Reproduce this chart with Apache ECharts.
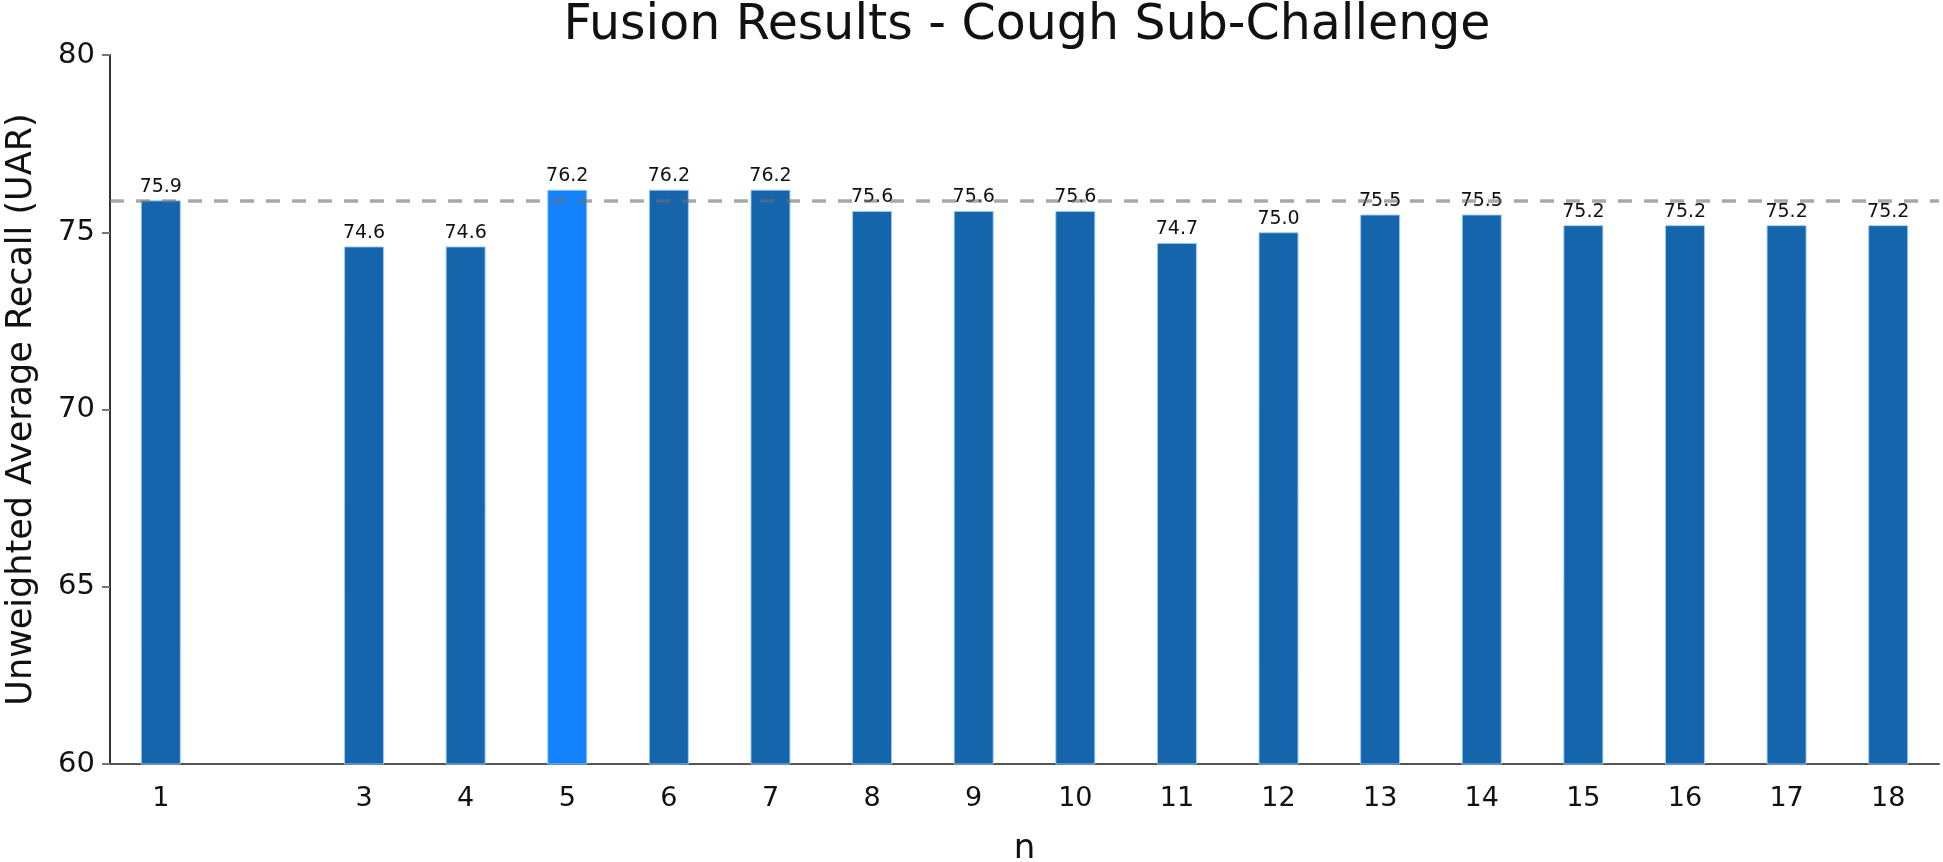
<!DOCTYPE html>
<html>
<head>
<meta charset="utf-8">
<script src="https://cdn.jsdelivr.net/npm/echarts@6/dist/echarts.min.js"></script>
<style>
  html, body { margin: 0; padding: 0; background: #fff; }
  #chart { width: 1943px; height: 862px; }
</style>
</head>
<body>
<div id="chart"></div>
<script>
// x categories (n); n = 2 has no result
var categories = ["1", "", "3", "4", "5", "6", "7", "8", "9", "10", "11", "12", "13", "14", "15", "16", "17", "18"];
var uarValues = [75.9, null, 74.6, 74.6, 76.2, 76.2, 76.2, 75.6, 75.6, 75.6, 74.7, 75.0, 75.5, 75.5, 75.2, 75.2, 75.2, 75.2];
var highlightIndex = 4; // n = 5
var baselineValue = 75.9;
var yTicks = { min: 60, max: 80, interval: 5 };

var chart = echarts.init(document.getElementById("chart"));

var barData = uarValues.map(function (v, i) {
  return {
    value: v,
    itemStyle: { color: i === highlightIndex ? "#1482fa" : "#1565ad" }
  };
});

var option = {
  textStyle: { fontFamily: "DejaVu Sans" },
  title: {
    text: "Fusion Results - Cough Sub-Challenge",
    left: 1022,
    textAlign: "center",
    top: -3,
    textStyle: { fontSize: 49, fontWeight: "normal", color: "#111" }
  },
  grid: { left: 110, right: 4, top: 55, bottom: 98, outerBoundsMode: "none", containLabel: false },
  xAxis: {
    type: "category",
    data: categories,
    name: "n",
    nameLocation: "middle",
    nameGap: 68,
    nameTextStyle: { fontSize: 34, color: "#111" },
    axisLine: { lineStyle: { color: "#555", width: 2 } },
    axisTick: { alignWithLabel: true, length: 8, lineStyle: { color: "#666" } },
    axisLabel: { fontSize: 27, color: "#111", margin: 21 }
  },
  yAxis: {
    type: "value",
    min: yTicks.min,
    max: yTicks.max,
    interval: yTicks.interval,
    name: "Unweighted Average Recall (UAR)",
    nameLocation: "middle",
    nameGap: 71,
    nameTextStyle: { fontSize: 35, color: "#111" },
    axisLine: { show: true, lineStyle: { color: "#333", width: 2 } },
    axisTick: { show: true, length: 8, lineStyle: { color: "#777", width: 2 } },
    axisLabel: { fontSize: 29, color: "#111", margin: 15 },
    splitLine: { show: false }
  },
  series: [
    {
      type: "bar",
      data: barData,
      barWidth: 40,
      itemStyle: { borderColor: "rgba(160,205,245,0.9)", borderWidth: 1 },
      label: {
        show: true,
        position: "top",
        distance: 4,
        fontSize: 19,
        color: "#111",
        formatter: function (p) { return p.value == null ? "" : p.value.toFixed(1); }
      },
      markLine: {
        silent: true,
        symbol: "none",
        label: { show: false },
        lineStyle: { color: "rgba(110,110,110,0.6)", type: [14, 12], width: 3.5 },
        data: [{ yAxis: baselineValue }]
      }
    }
  ]
};

chart.setOption(option);
</script>
</body>
</html>
